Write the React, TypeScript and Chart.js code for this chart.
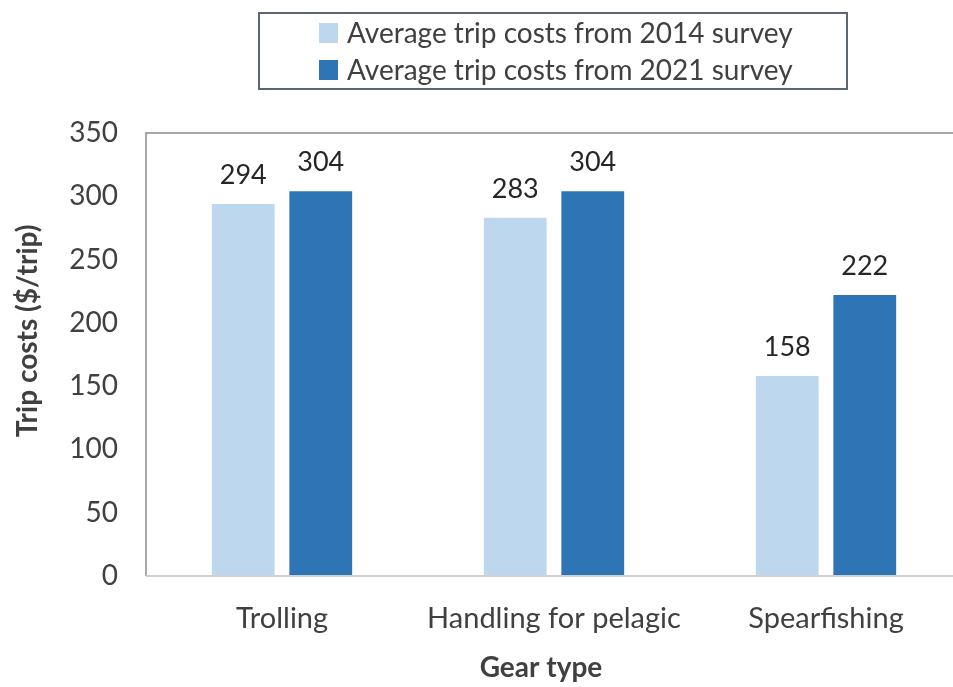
import React, { useEffect, useRef } from "react";
import { Chart, registerables } from "chart.js";

Chart.register(...registerables);

const categories = ["Trolling", "Handling for pelagic", "Spearfishing"];
const series2014 = [294, 283, 158];
const series2021 = [304, 304, 222];
const seriesLabels = [
  "Average trip costs from 2014 survey",
  "Average trip costs from 2021 survey",
];
const yTicks = [0, 50, 100, 150, 200, 250, 300, 350];
const yTitle = "Trip costs ($/trip)";
const xTitle = "Gear type";

const FONT = "Lato, 'Open Sans', sans-serif";
const TEXT = "#404040";

const W = 975;
const H = 687;

const plotPlugin = {
  id: "plotDecor",
  afterDatasetsDraw(chart: any) {
    const ctx = chart.ctx;
    const a = chart.chartArea;
    ctx.save();
    // plot-area border (top, left, right)
    ctx.strokeStyle = "#8c8c8c";
    ctx.lineWidth = 1.5;
    ctx.beginPath();
    ctx.moveTo(a.left, a.bottom);
    ctx.lineTo(a.left, a.top);
    ctx.lineTo(a.right, a.top);
    ctx.lineTo(a.right, a.bottom);
    ctx.stroke();
    // bottom axis line
    ctx.strokeStyle = "#d0d0d0";
    ctx.lineWidth = 2;
    ctx.beginPath();
    ctx.moveTo(a.left, a.bottom);
    ctx.lineTo(a.right, a.bottom);
    ctx.stroke();

    // value labels
    ctx.fillStyle = "#262626";
    ctx.font = `27px ${FONT}`;
    ctx.textAlign = "center";
    ctx.textBaseline = "bottom";
    chart.data.datasets.forEach((ds: any, di: number) => {
      const meta = chart.getDatasetMeta(di);
      meta.data.forEach((bar: any, i: number) => {
        ctx.fillText(String(ds.data[i]), bar.x, bar.y - 15);
      });
    });

    // axis titles
    ctx.fillStyle = TEXT;
    ctx.font = `bold 28px ${FONT}`;
    ctx.textAlign = "center";
    ctx.textBaseline = "middle";
    ctx.fillText(xTitle, 541, 668);
    ctx.save();
    ctx.translate(28, 331);
    ctx.rotate(-Math.PI / 2);
    ctx.fillText(yTitle, 0, 0);
    ctx.restore();

    // legend
    ctx.strokeStyle = "#5b6573";
    ctx.lineWidth = 2;
    ctx.strokeRect(259, 13, 588, 76);
    ctx.font = `28px ${FONT}`;
    ctx.textAlign = "left";
    ctx.textBaseline = "middle";
    chart.data.datasets.forEach((ds: any, di: number) => {
      const cy = 33 + di * 37;
      ctx.fillStyle = ds.backgroundColor;
      ctx.fillRect(319, cy - 10, 19, 20);
      ctx.fillStyle = TEXT;
      ctx.fillText(ds.label, 347, cy + 1);
    });
    ctx.restore();
  },
};

export default function App() {
  const ref = useRef<HTMLCanvasElement | null>(null);

  useEffect(() => {
    document.documentElement.style.overflow = "hidden";
    document.body.style.margin = "0";
    document.body.style.overflow = "hidden";
    if (!ref.current) return;
    const chart = new Chart(ref.current, {
      type: "bar",
      data: {
        labels: categories,
        datasets: [
          {
            label: seriesLabels[0],
            data: series2014,
            backgroundColor: "#BDD7EE",
            categoryPercentage: 0.57,
            barPercentage: 0.81,
          },
          {
            label: seriesLabels[1],
            data: series2021,
            backgroundColor: "#2E75B6",
            categoryPercentage: 0.57,
            barPercentage: 0.81,
          },
        ],
      },
      options: {
        animation: false,
        responsive: false,
        layout: { padding: { top: 133, right: 13, left: 0, bottom: 0 } },
        plugins: {
          legend: { display: false },
          tooltip: { enabled: false },
        },
        scales: {
          x: {
            grid: { display: false, drawTicks: false },
            border: { display: false },
            ticks: {
              color: TEXT,
              font: { family: FONT, size: 29 },
              padding: 25,
              maxRotation: 0,
            },
            title: { display: false },
            afterFit: (s: any) => {
              s.height = 111;
            },
          },
          y: {
            min: 0,
            max: 350,
            grid: { display: false, drawTicks: false },
            border: { display: false },
            afterBuildTicks: (s: any) => {
              s.ticks = yTicks.map((v) => ({ value: v }));
            },
            ticks: {
              color: TEXT,
              font: { family: FONT, size: 28 },
              padding: 28,
            },
            title: { display: false },
            afterFit: (s: any) => {
              s.width = 146;
            },
          },
        },
      },
      plugins: [plotPlugin],
    });
    return () => chart.destroy();
  }, []);

  return (
    <div style={{ position: "fixed", left: 0, top: 0, width: W, height: H, background: "#fff" }}>
      <canvas ref={ref} width={W} height={H} style={{ width: W, height: H, display: "block" }} />
    </div>
  );
}
